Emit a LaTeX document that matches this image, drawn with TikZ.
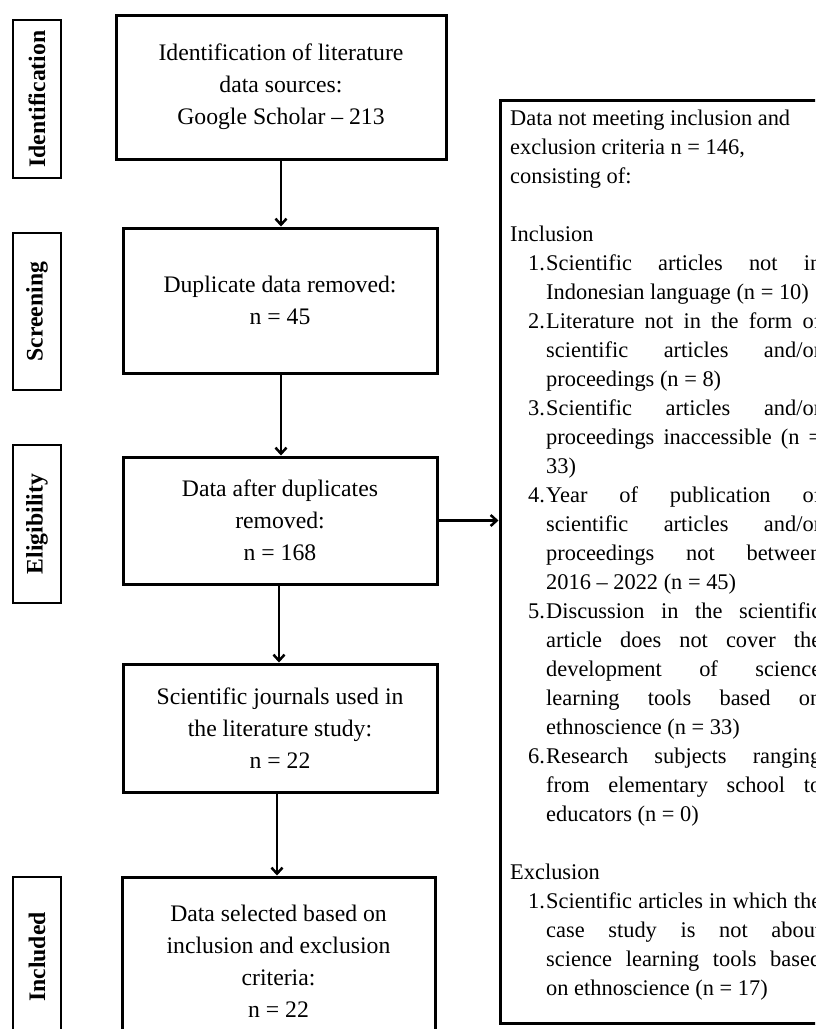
\documentclass[tikz,border=0pt]{standalone}
\usepackage{fontspec}
\setmainfont{Liberation Serif}
\usetikzlibrary{arrows.meta}
\tikzset{
  mainbox/.style={draw, line width=3pt, align=center, inner sep=0pt,
    font=\fontsize{23.7}{32}\selectfont},
  labbox/.style={draw, line width=2pt, rotate=90, inner sep=0pt,
    minimum height=48pt, font=\fontsize{23.7}{28}\selectfont\bfseries},
  arr/.style={line width=2.5pt, -{Straight Barb[length=6pt,width=11pt,line width=2.5pt]}},
  sidebox/.style={draw, line width=3pt, inner sep=0pt},
  sidetext/.style={anchor=base west, inner sep=0pt, align=left}
}
\newcommand{\itm}[2]{\hspace*{18pt}\makebox[18pt][l]{#1}\makebox[275pt][s]{#2}\\}
\newcommand{\itl}[2]{\hspace*{18pt}\makebox[18pt][l]{#1}#2\\}
\newcommand{\ijs}[1]{\hspace*{36pt}\makebox[275pt][s]{#1}\\}
\newcommand{\inl}[1]{\hspace*{36pt}#1\\}
\begin{document}
\begin{tikzpicture}[x=1pt,y=-1pt]
\useasboundingbox (0,0) rectangle (815,1029);
\clip (0,0) rectangle (815,1029);

% stage labels
\node[labbox, minimum width=158pt] (lid) at (37,99) {Identification};
\node[labbox, minimum width=157pt] (lsc) at (37,311.5) {Screening};
\node[labbox, minimum width=158pt] (lel) at (37,524) {Eligibility};
\node[labbox, minimum width=160pt] (lin) at (37,957) {Included};

% main boxes
\node[mainbox, minimum width=330pt, minimum height=144pt] (b1) at (281,87)
  {Identification of literature\\data sources:\\Google Scholar – 213};
\node[mainbox, minimum width=314pt, minimum height=145pt] (b2) at (280,300.5)
  {Duplicate data removed:\\n = 45};
\node[mainbox, minimum width=314pt, minimum height=127pt] (b3) at (280,520.5)
  {Data after duplicates\\removed:\\n = 168};
\node[mainbox, minimum width=314pt, minimum height=128pt] (b4) at (280,728)
  {Scientific journals used in\\the literature study:\\n = 22};
\node[mainbox, minimum width=313pt, minimum height=168pt] (b5) at (278.5,961)
  {Data selected based on\\inclusion and exclusion\\criteria:\\n = 22};

% side box
\node[sidebox, minimum width=340pt, minimum height=923pt] (rb) at (670,561.5) {};
\node[sidetext] (rt) at (510,125) {%
\begin{minipage}[t]{330pt}
\fontsize{22.4}{29}\selectfont\setlength{\parindent}{0pt}%
Data not meeting inclusion and\\
exclusion criteria n = 146,\\
consisting of:\\
\mbox{}\\
Inclusion\\
\itm{1.}{Scientific articles not in}
\inl{Indonesian language (n = 10)}
\itm{2.}{Literature not in the form of}
\ijs{scientific articles and/or}
\inl{proceedings (n = 8)}
\itm{3.}{Scientific articles and/or}
\ijs{proceedings inaccessible (n =}
\inl{33)}
\itm{4.}{Year of publication of}
\ijs{scientific articles and/or}
\ijs{proceedings not between}
\inl{2016 – 2022 (n = 45)}
\itm{5.}{Discussion in the scientific}
\ijs{article does not cover the}
\ijs{development of science}
\ijs{learning tools based on}
\inl{ethnoscience (n = 33)}
\itm{6.}{Research subjects ranging}
\ijs{from elementary school to}
\inl{educators (n = 0)}
\mbox{}\\
Exclusion\\
\itm{1.}{Scientific articles in which the}
\ijs{case study is not about}
\ijs{science learning tools based}
\hspace*{36pt}on ethnoscience (n = 17)
\end{minipage}};

% connectors
\draw[arr] (b1.south) -- (b1.south |- b2.north);
\draw[arr] ([xshift=1pt]b2.south) -- ([xshift=1pt]b2.south |- b3.north);
\draw[arr] ([xshift=-1pt]b3.south) -- ([xshift=-1pt]b3.south |- b4.north);
\draw[arr] ([xshift=-3pt]b4.south) -- ([xshift=-3pt]b4.south |- b5.north);
\draw[arr] (b3.east) -- (rb.west |- b3.east);
\end{tikzpicture}
\end{document}
